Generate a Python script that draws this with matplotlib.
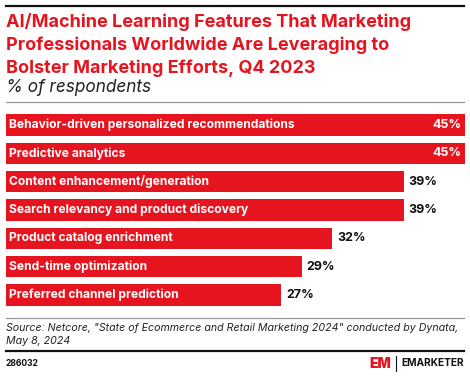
import matplotlib
matplotlib.use('Agg')
import matplotlib.pyplot as plt
from matplotlib.lines import Line2D

W, H = 470, 376
RED = '#e5141f'

features = ['Behavior-driven personalized recommendations',
            'Predictive analytics',
            'Content enhancement/generation',
            'Search relevancy and product discovery',
            'Product catalog enrichment',
            'Send-time optimization',
            'Preferred channel prediction']
shares = [45, 45, 39, 39, 32, 29, 27]

plt.rcParams['font.family'] = ['Inter', 'DejaVu Sans']


def px(x, y):
    # pixel coords (top-left origin) -> figure fraction
    return x / W, 1 - y / H


def hline(fig, y, x0, x1, color, lw):
    fig.add_artist(Line2D([x0 / W, x1 / W], [1 - y / H, 1 - y / H],
                          transform=fig.transFigure, color=color, lw=lw))


fig = plt.figure(figsize=(W / 100, H / 100), dpi=100)

# header
hline(fig, 6, 6, 464, '#111111', 1.6)
title = ['AI/Machine Learning Features That Marketing',
         'Professionals Worldwide Are Leveraging to',
         'Bolster Marketing Efforts, Q4 2023']
for i, line in enumerate(title):
    fig.text(*px(6, 22 + 23 * i), line, color=RED, fontsize=13,
             fontweight='bold', va='center', ha='left')
fig.text(*px(6, 88), '% of respondents', fontsize=12.4, style='italic',
         va='center', ha='left', color='#222222')
hline(fig, 102, 6, 464, '#999999', 0.9)

# bars
pitch, bh = 28.3, 21.5
hb = bh / pitch
top, n = 114.3, len(features)
span = (n - 1) * pitch + bh
l, b = px(6, top + span)
ax = fig.add_axes([l, b, 459 / W, span / H])
ys = list(range(n))
ax.barh(ys, shares, height=hb, color=RED)
ax.set_xlim(0, 45)
ax.set_ylim(n - 1 + hb / 2, -hb / 2)
ax.axis('off')
for y, name, v in zip(ys, features, shares):
    ax.text(0.3, y, name, color='white', fontsize=8.7, fontweight='bold',
            va='center', ha='left')
    if v >= 44:
        ax.text(v - 0.35, y, f'{v}%', color='white', fontsize=9,
                fontweight='bold', va='center', ha='right')
    else:
        ax.text(v + 0.45, y, f'{v}%', color='#111111', fontsize=9,
                fontweight='bold', va='center', ha='left')

# footer
hline(fig, 318, 6, 464, '#999999', 0.9)
fig.text(*px(6, 328), 'Source: Netcore, "State of Ecommerce and Retail Marketing 2024" conducted by Dynata,',
         fontsize=7.65, style='italic', va='center', ha='left', color='#222222')
fig.text(*px(6, 341), 'May 8, 2024', fontsize=7.65, style='italic',
         va='center', ha='left', color='#222222')
hline(fig, 351, 6, 464, '#111111', 1.6)
fig.text(*px(6, 363), '286032', fontsize=6.2, fontweight='bold',
         va='center', ha='left', color='#111111')
fig.text(*px(369, 364), 'EM', fontsize=10, fontweight='black', color=RED,
         va='center', ha='left')
fig.add_artist(Line2D([396 / W, 396 / W], [1 - 356 / H, 1 - 371 / H],
                      transform=fig.transFigure, color='#111111', lw=0.8))
fig.text(*px(464, 363), 'EMARKETER', fontsize=7.3, fontweight='bold',
         va='center', ha='right', color='#111111')

fig.savefig('out.png', dpi=100)
